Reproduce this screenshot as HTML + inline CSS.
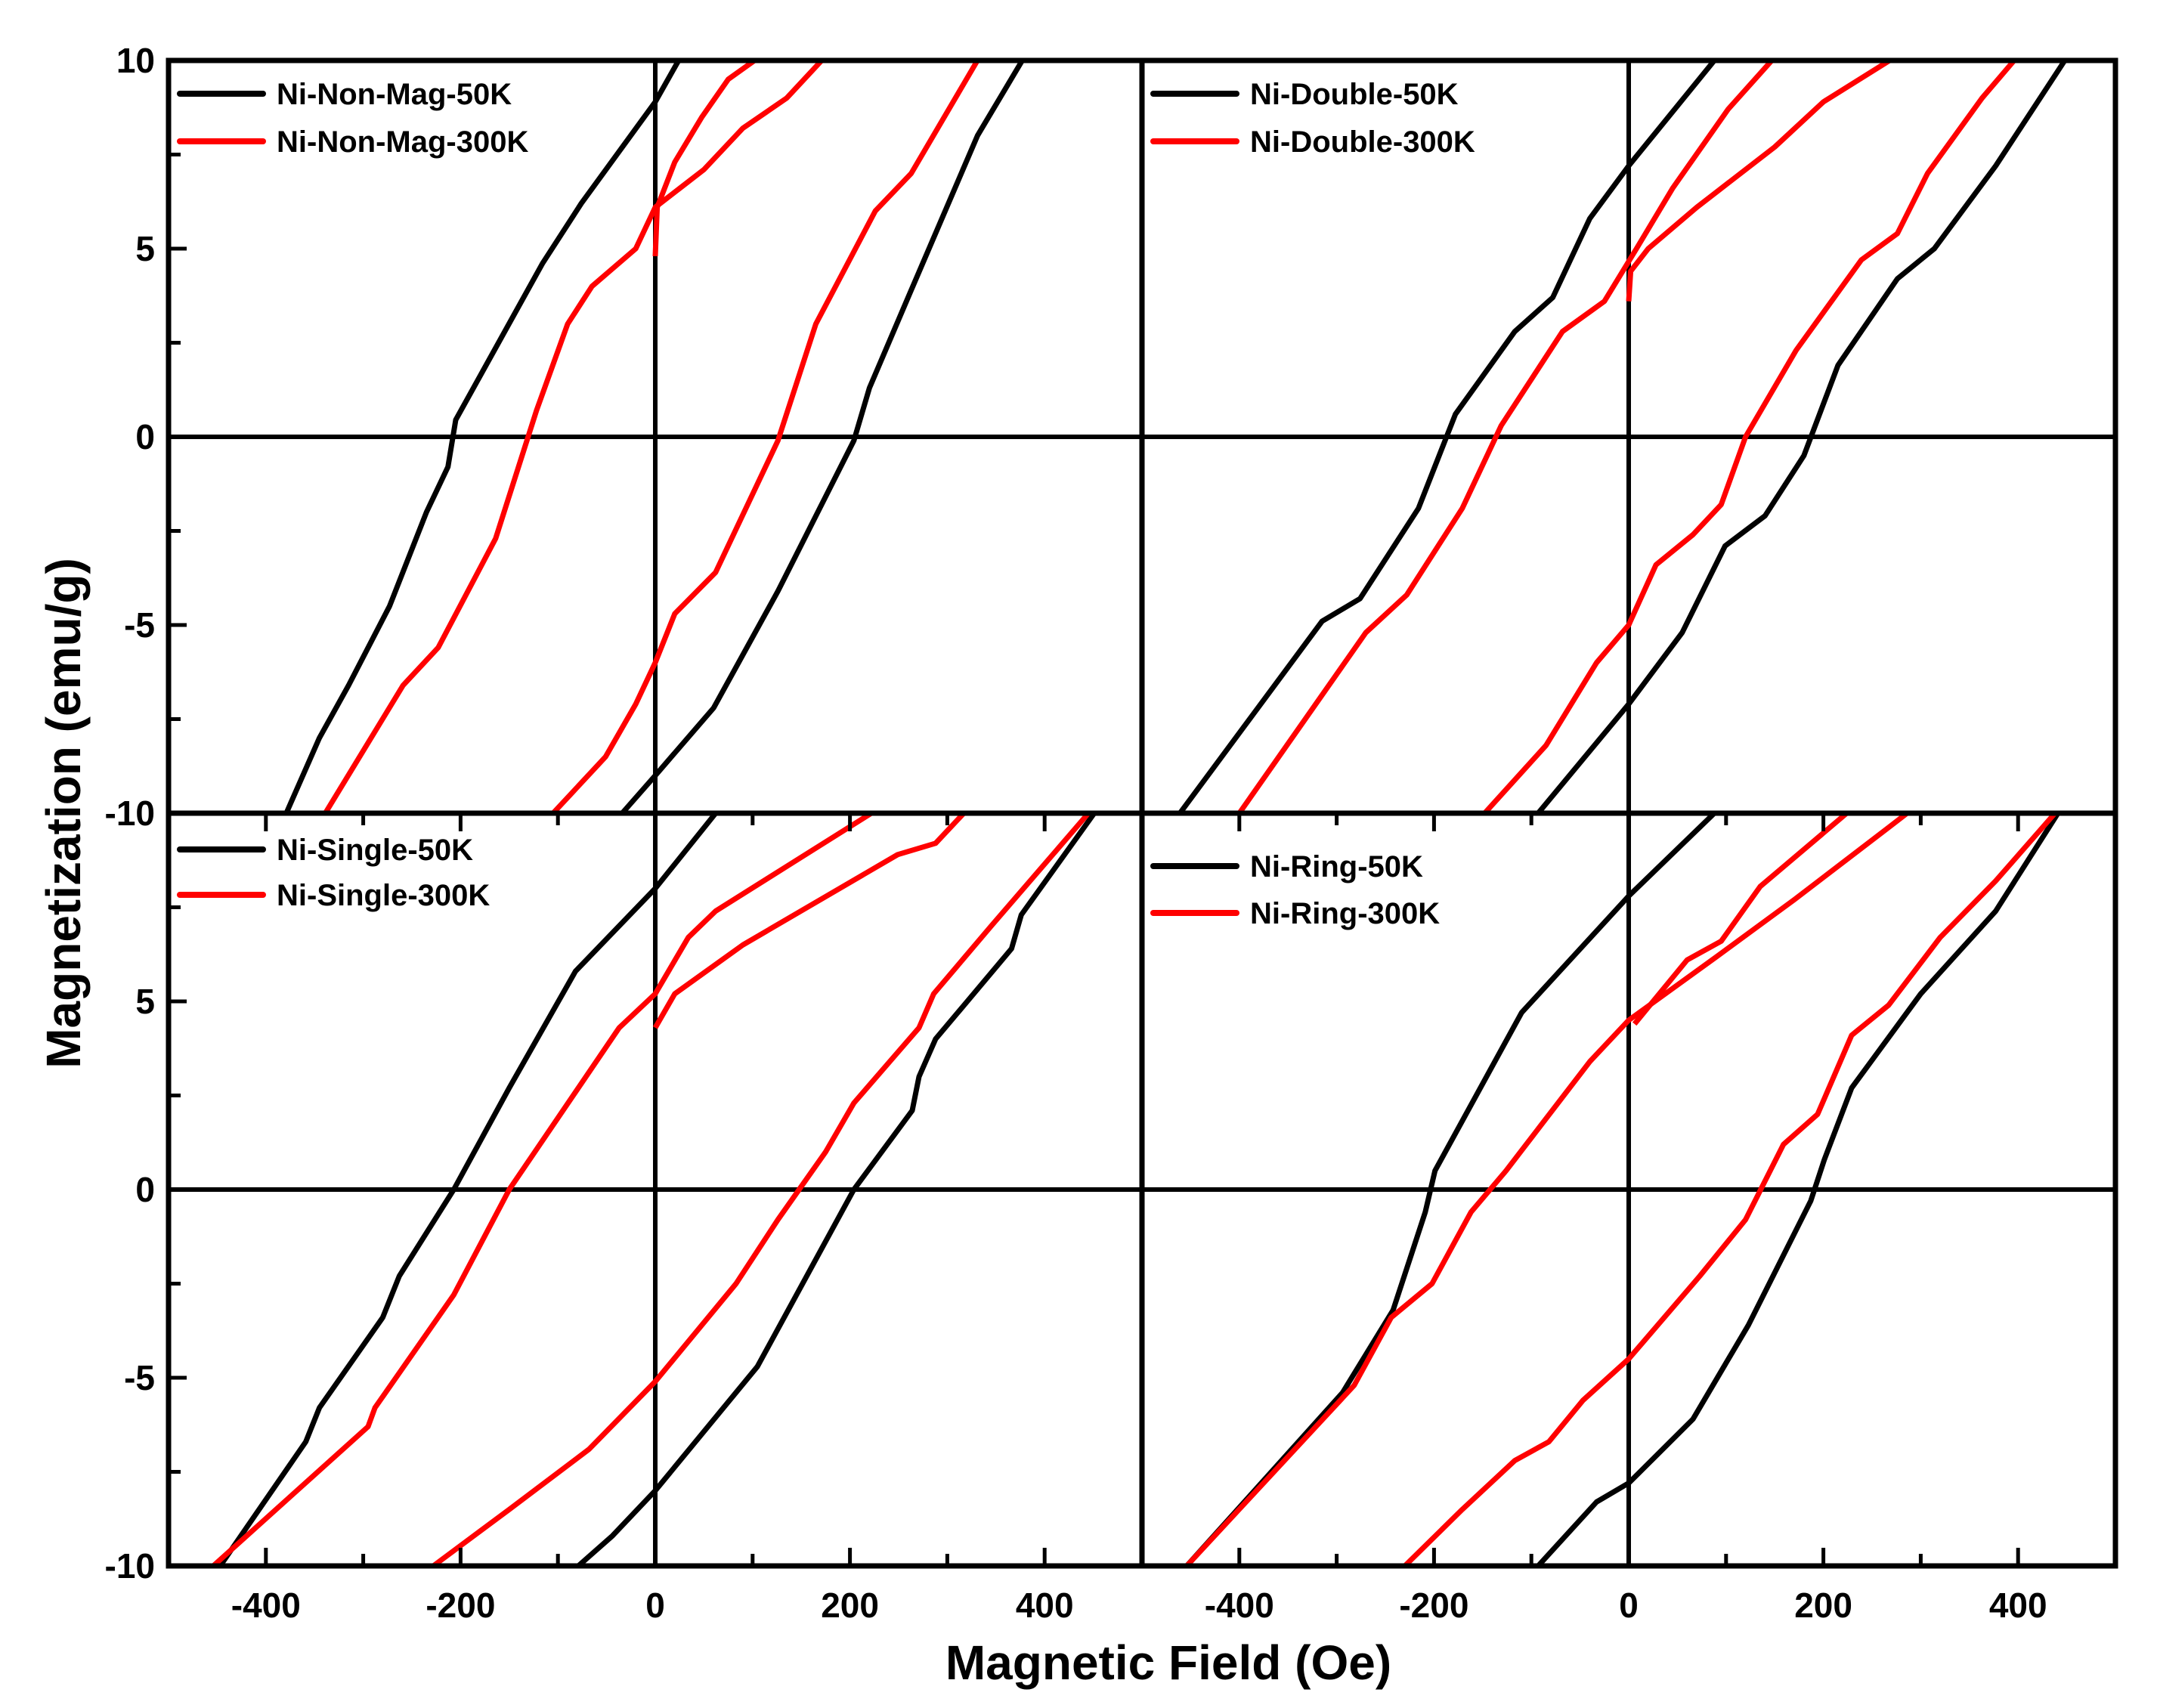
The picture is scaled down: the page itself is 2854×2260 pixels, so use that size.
<!DOCTYPE html>
<html><head><meta charset="utf-8"><style>
html,body{margin:0;padding:0;background:#fff;}
svg{display:block;font-family:"Liberation Sans",Arial,sans-serif;font-weight:bold;}
</style></head><body>
<svg id="chart" width="2854" height="2260" viewBox="0 0 2854 2260" xmlns="http://www.w3.org/2000/svg">
<g id="marks"></g>
<g id="axes"></g>
<text x="1546" y="2222" font-size="64" text-anchor="middle">Magnetic Field (Oe)</text>
<text transform="translate(106,1076) rotate(-90)" font-size="64" text-anchor="middle">Magnetization (emu/g)</text>
</svg>
<script>
// ---- data (H in Oe, M in emu/g) ----
const panelNames = ["Ni-Non-Mag", "Ni-Double", "Ni-Single", "Ni-Ring"];
const xTicks = [-400, -200, 0, 200, 400];
const yTicksTop = [10, 5, 0, -5, -10];
const yTicksBottom = [5, 0, -5, -10];

const nonMag50Desc = [[24,10],[0,8.9],[-76,6.2],[-116,4.6],[-205,0.45],[-213,-0.8],[-235,-2],[-273,-4.5],[-315,-6.6],[-345,-8],[-379,-10]];
const nonMag50Asc = [[-34,-10],[0,-9],[60,-7.2],[126,-4.1],[204,-0.1],[220,1.3],[263,3.9],[331,8],[377,10]];
const nonMag300Desc = [[171,10],[135,9],[90,8.2],[50,7.1],[25,6.6],[0,6.1],[-20,5.0],[-65,4.0],[-90,3.0],[-122,0.7],[-164,-2.7],[-223,-5.6],[-259,-6.6],[-339,-10]];
const nonMag300Virgin = [[0,4.8],[2,6.1],[20,7.3],[48,8.5],[75,9.5],[102,10]];
const nonMag300Asc = [[-105,-10],[-51,-8.5],[-20,-7.1],[0,-6],[20,-4.7],[62,-3.6],[126,-0.1],[165,3],[226,6],[263,7],[331,10]];

const double50Desc = [[88,10],[0,7.2],[-40,5.8],[-78,3.7],[-117,2.8],[-178,0.6],[-216,-1.9],[-276,-4.3],[-315,-4.9],[-461,-10]];
const double50Asc = [[-93,-10],[0,-7.1],[55,-5.2],[99,-2.9],[140,-2.1],[180,-0.5],[215,1.9],[276,4.2],[314,5.0],[377,7.2],[448,10]];
const double300Desc = [[147,10],[102,8.7],[45,6.6],[8,5.0],[-25,3.6],[-68,2.8],[-131,0.3],[-171,-1.9],[-228,-4.2],[-270,-5.2],[-400,-10]];
const double300Virgin = [[0,3.6],[2,4.4],[20,5.0],[70,6.1],[150,7.7],[200,8.9],[268,10]];
const double300Asc = [[-148,-10],[-85,-8.2],[-33,-6.0],[0,-5.0],[28,-3.4],[66,-2.6],[95,-1.8],[120,0],[172,2.3],[239,4.7],[276,5.4],[307,7.0],[363,9.0],[396,10]];

const single50Desc = [[62,10],[0,8.0],[-82,5.8],[-150,2.7],[-207,0],[-263,-2.3],[-280,-3.4],[-345,-5.8],[-359,-6.7],[-447,-10]];
const single50Asc = [[-79,-10],[-44,-9.2],[0,-8],[105,-4.7],[204,0],[264,2.1],[271,3.0],[288,4.0],[366,6.4],[376,7.3],[451,10]];
const single300Desc = [[222,10],[62,7.4],[34,6.7],[0,5.2],[-37,4.3],[-150,0],[-207,-2.8],[-288,-5.8],[-295,-6.3],[-454,-10]];
const single300Virgin = [[0,4.3],[20,5.2],[90,6.5],[249,8.9],[288,9.2],[317,10]];
const single300Asc = [[-228,-10],[-150,-8.5],[-68,-6.9],[0,-5.1],[83,-2.5],[126,-0.8],[175,1.0],[204,2.3],[271,4.3],[286,5.2],[345,7],[445,10]];

const ring50Desc = [[88,10],[0,7.8],[-110,4.7],[-199,0.5],[-209,-0.6],[-242,-3.2],[-294,-5.4],[-454,-10]];
const ring50Asc = [[-93,-10],[-33,-8.3],[0,-7.8],[66,-6.1],[123,-3.6],[187,-0.3],[201,0.8],[229,2.7],[300,5.2],[377,7.4],[441,10]];
const ring300Desc = [[286,10],[266,9.6],[170,7.7],[91,6.2],[0,4.5],[-40,3.4],[-126,0.5],[-162,-0.6],[-202,-2.5],[-244,-3.4],[-282,-5.2],[-454,-10]];
const ring300Virgin = [[6,4.4],[60,6.1],[95,6.6],[135,8.05],[224,10]];
const ring300Asc = [[-230,-10],[-171,-8.5],[-117,-7.2],[-82,-6.7],[-47,-5.6],[0,-4.5],[73,-2.3],[120,-0.8],[159,1.2],[194,2.0],[229,4.1],[267,4.9],[320,6.7],[377,8.2],[438,10]];

const panelSeries = [
  {black:[nonMag50Desc,nonMag50Asc], red:[nonMag300Desc,nonMag300Virgin,nonMag300Asc]},
  {black:[double50Desc,double50Asc], red:[double300Desc,double300Virgin,double300Asc]},
  {black:[single50Desc,single50Asc], red:[single300Desc,single300Virgin,single300Asc]},
  {black:[ring50Desc,ring50Asc], red:[ring300Desc,ring300Virgin,ring300Asc]}
];

// ---- layout ----
const NS = "http://www.w3.org/2000/svg";
const panels = [
  {x0:223, x1:1511, y0:80, y1:1076, leg:[124,187]},
  {x0:1511, x1:2799, y0:80, y1:1076, leg:[124,187]},
  {x0:223, x1:1511, y0:1076, y1:2072, leg:[1124,1184]},
  {x0:1511, x1:2799, y0:1076, y1:2072, leg:[1146,1208]}
];
function mk(tag, attrs, parent){ const e=document.createElementNS(NS,tag); for(const k in attrs) e.setAttribute(k,attrs[k]); parent.appendChild(e); return e; }
const marks=document.getElementById('marks'), axes=document.getElementById('axes');
const defs=mk('defs',{},marks);

panels.forEach((p,i)=>{
  const sx = h => p.x0 + (h+500)/1000*(p.x1-p.x0);
  const sy = m => p.y0 + (10-m)/20*(p.y1-p.y0);
  const cp=mk('clipPath',{id:'clip'+i},defs);
  mk('rect',{x:p.x0,y:p.y0,width:p.x1-p.x0,height:p.y1-p.y0},cp);
  const g=mk('g',{'clip-path':'url(#clip'+i+')'},marks);
  
  
  const zl=mk('line',{x1:sx(0),x2:sx(0),y1:p.y0,y2:p.y1,stroke:'#000','stroke-width':6},g);
  
  
  const zh=mk('line',{x1:p.x0,x2:p.x1,y1:sy(0),y2:sy(0),stroke:'#000','stroke-width':6},g);
  
  
  const draw=(arr,color,name)=>{
    const d=arr.map((pt,j)=>(j?'L':'M')+sx(pt[0]).toFixed(1)+' '+sy(pt[1]).toFixed(1)).join(' ');
    const path=mk('path',{d:d,fill:'none',stroke:color,'stroke-width':7,'stroke-linejoin':'round'},g);
    
    
  };
  panelSeries[i].black.forEach((a,j)=>draw(a,'#000','series-50k-branch-'+j));
  panelSeries[i].red.forEach((a,j)=>draw(a,'#ff0000','series-300k-branch-'+j));
  const fr=mk('rect',{x:p.x0,y:p.y0,width:p.x1-p.x0,height:p.y1-p.y0,fill:'none',stroke:'#000','stroke-width':7},axes);
  
  
  const lx0=p.x0+15, names=[panelNames[i]+'-50K', panelNames[i]+'-300K'], cols=['#000','#ff0000'];
  for(let k=0;k<2;k++){
    const ll=mk('line',{x1:lx0,x2:lx0+110,y1:p.leg[k],y2:p.leg[k],stroke:cols[k],'stroke-width':8,'stroke-linecap':'round'},axes);
    
    
    const t=mk('text',{x:lx0+128,y:p.leg[k]+14,'font-size':40},axes);
    t.textContent=names[k];
    
    
  }
  if(i>=2){
    for(let h=-400;h<=400;h+=100){
      const major=(h%200===0), L=major?24:16;
      mk('line',{x1:sx(h),x2:sx(h),y1:p.y1,y2:p.y1-L,stroke:'#000','stroke-width':5},axes);
      mk('line',{x1:sx(h),x2:sx(h),y1:p.y0,y2:p.y0+L,stroke:'#000','stroke-width':5},axes);
    }
    xTicks.forEach(h=>{
      const t=mk('text',{x:sx(h),y:2140,'font-size':46,'text-anchor':'middle'},axes);
      t.textContent=String(h);
      
      
    });
  }
  if(i%2===0){
    for(let m=-7.5;m<=7.5;m+=2.5){
      const L=(m%5===0)?24:16;
      mk('line',{x1:p.x0,x2:p.x0+L,y1:sy(m),y2:sy(m),stroke:'#000','stroke-width':5},axes);
    }
    (i===0?yTicksTop:yTicksBottom).forEach(m=>{
      const t=mk('text',{x:205,y:sy(m)+16,'font-size':46,'text-anchor':'end'},axes);
      t.textContent=String(m);
      
      
    });
  }
});
</script>
</body></html>
